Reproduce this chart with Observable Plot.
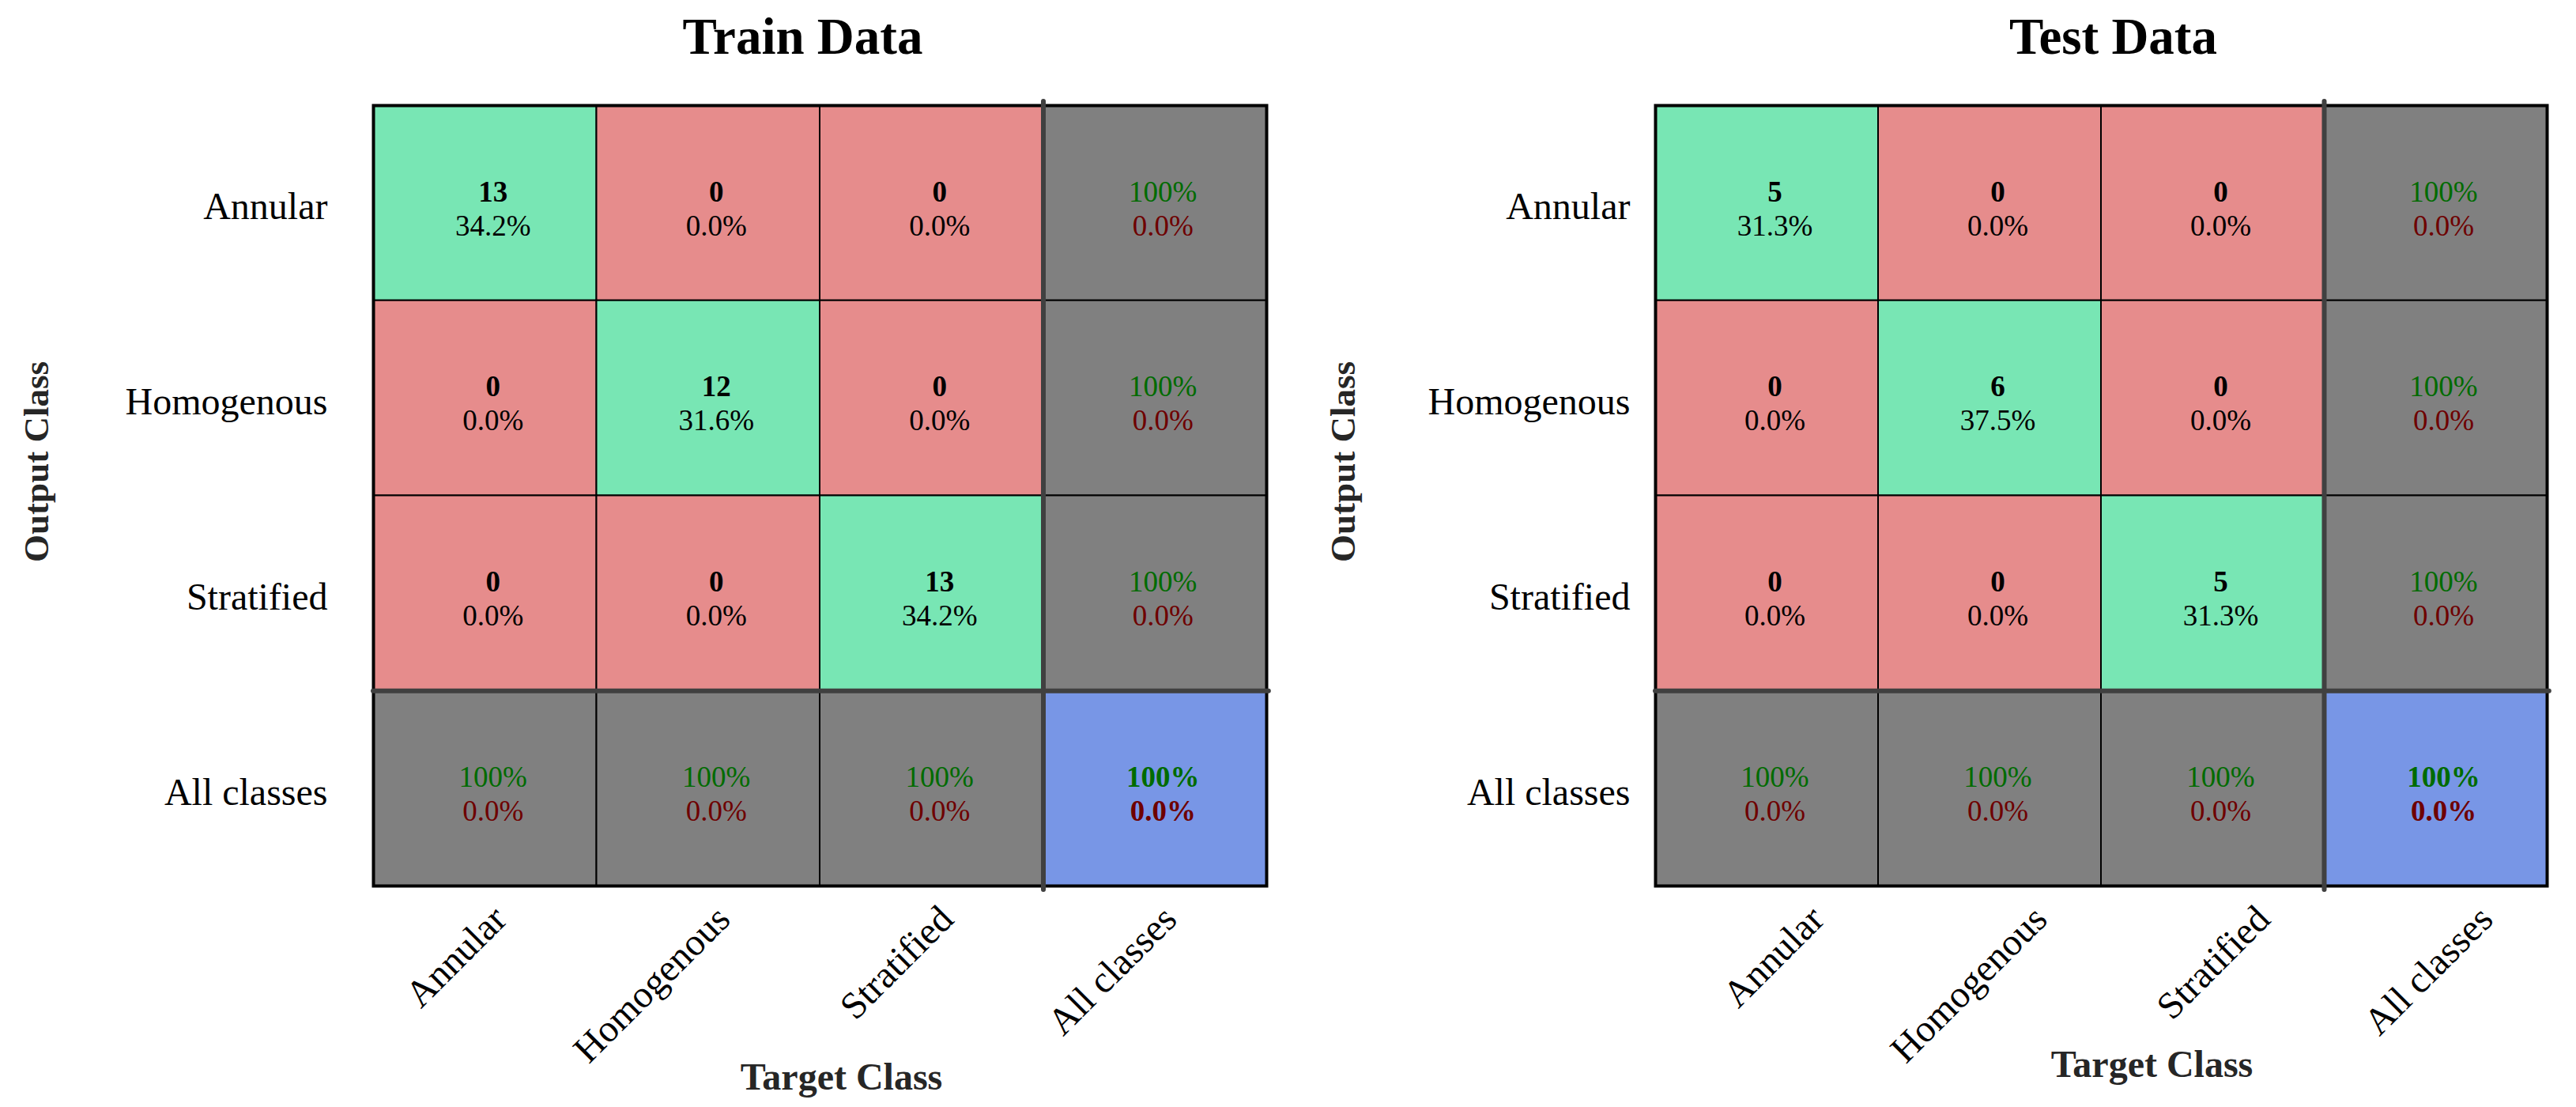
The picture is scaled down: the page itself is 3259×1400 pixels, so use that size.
<!DOCTYPE html>
<html><head><meta charset="utf-8">
<script src="https://cdn.jsdelivr.net/npm/d3@7"></script>
<script src="https://cdn.jsdelivr.net/npm/@observablehq/plot@0.6"></script>
<style>
html,body{margin:0;padding:0;background:#fff;}
#root{position:relative;width:3259px;height:1400px;overflow:hidden;}
#root > div{position:absolute;top:0;}
</style></head><body><div id="root"><div id="left" style="left:0px"></div><div id="right" style="left:1630px"></div></div>
<script>
// ---- data ----
const classes = ["Annular", "Homogenous", "Stratified"];
const axisLabels = ["Annular", "Homogenous", "Stratified", "All classes"];
// rows = output class, columns = target class
const trainCounts = [[13, 0, 0], [0, 12, 0], [0, 0, 13]];
const testCounts = [[5, 0, 0], [0, 6, 0], [0, 0, 5]];
const chartTitles = ["Train Data", "Test Data"];
const xTitle = "Target Class";
const yTitle = "Output Class";

const COL = {good: "#78e6b4", bad: "#e68c8c", summary: "#808080", total: "#7896e6",
             green: "#006b00", red: "#6e0000", grid: "#000000", sep: "#404040"};

function fmt(v) { return v === 100 ? "100%" : v.toFixed(1) + "%"; }

function buildCells(m) {
  const n = m.length, total = d3.sum(m.flat()), cells = [];
  for (let r = 0; r < n; r++) for (let c = 0; c < n; c++)
    cells.push({row: r, col: c, fill: r === c ? COL.good : COL.bad,
      t1: String(m[r][c]), c1: "#000", b1: true, t2: fmt(100 * m[r][c] / total), c2: "#000", b2: false});
  for (let r = 0; r < n; r++) {
    const p = 100 * m[r][r] / d3.sum(m[r]);
    cells.push({row: r, col: n, fill: COL.summary, t1: fmt(p), c1: COL.green, b1: false, t2: fmt(100 - p), c2: COL.red, b2: false});
  }
  for (let c = 0; c < n; c++) {
    const p = 100 * m[c][c] / d3.sum(m, row => row[c]);
    cells.push({row: n, col: c, fill: COL.summary, t1: fmt(p), c1: COL.green, b1: false, t2: fmt(100 - p), c2: COL.red, b2: false});
  }
  const p = 100 * d3.sum(m.map((row, i) => row[i])) / total;
  cells.push({row: n, col: n, fill: COL.total, t1: fmt(p), c1: COL.green, b1: true, t2: fmt(100 - p), c2: COL.red, b2: true});
  return cells;
}

function chart(m, title, o) {
  const n = m.length, cells = buildCells(m);
  const cx = d => d.col + 0.5, cy = d => d.row + 0.5;
  const T = {lineAnchor: "middle"};
  return Plot.plot({
    width: o.width, height: 1400,
    marginLeft: o.marginLeft, marginRight: o.marginRight, marginTop: 133, marginBottom: 280,
    x: {domain: [0, n + 1], axis: null},
    y: {domain: [0, n + 1], reverse: true, axis: null},
    style: {fontFamily: "'Liberation Serif', 'Times New Roman', serif", background: "white", overflow: "visible"},
    marks: [
      Plot.rect(cells, {x1: "col", x2: d => d.col + 1, y1: "row", y2: d => d.row + 1,
        fill: "fill", stroke: COL.grid, strokeWidth: 2}),
      Plot.frame({stroke: "#000", strokeWidth: 4}),
      Plot.ruleX([n], {y1: -0.02, y2: n + 1.02, stroke: COL.sep, strokeWidth: 6, strokeLinecap: "round"}),
      Plot.ruleY([n], {x1: 0, x2: n + 1.01, stroke: COL.sep, strokeWidth: 6, strokeLinecap: "round"}),
      Plot.text(cells.filter(d => d.b1), {...T, x: cx, y: cy, text: "t1", fill: "c1", fontWeight: "bold", fontSize: 37, dx: 10, dy: -14}),
      Plot.text(cells.filter(d => !d.b1), {...T, x: cx, y: cy, text: "t1", fill: "c1", fontSize: 37, dx: 10, dy: -14}),
      Plot.text(cells.filter(d => d.b2), {...T, x: cx, y: cy, text: "t2", fill: "c2", fontWeight: "bold", fontSize: 37, dx: 10, dy: 29}),
      Plot.text(cells.filter(d => !d.b2), {...T, x: cx, y: cy, text: "t2", fill: "c2", fontSize: 37, dx: 10, dy: 29}),
      // row tick labels
      Plot.text(axisLabels, {...T, y: (d, i) => i + 0.5, text: d => d, frameAnchor: "left", textAnchor: "end",
        dx: o.rowDx, dy: 5, fontSize: 48, fill: "#000"}),
      // column tick labels (rotated)
      Plot.text(axisLabels, {...T, x: (d, i) => i + 0.5, text: d => d, frameAnchor: "bottom", textAnchor: "end",
        rotate: -45, dx: o.colDx, dy: 34, fontSize: 48, fill: "#000"}),
      // titles
      Plot.text([title], {...T, text: d => d, frameAnchor: "top", textAnchor: "middle", dx: o.titleDx, dy: -86, fontSize: 65, fontWeight: "bold", fill: "#000"}),
      Plot.text([xTitle], {...T, text: d => d, frameAnchor: "bottom", textAnchor: "middle", dx: o.xTitleDx, dy: o.xTitleDy, fontSize: 48, fontWeight: "bold", fill: "#262626"}),
      Plot.text([yTitle], {...T, text: d => d, frameAnchor: "left", textAnchor: "middle", rotate: -90, dx: o.yTitleDx, dy: -43, fontSize: 45, fontWeight: "bold", fill: "#262626"})
    ]
  });
}

document.getElementById("left").append(chart(trainCounts, chartTitles[0],
  {width: 1630, marginLeft: 472, marginRight: 28, rowDx: -58, colDx: 19, titleDx: -22, xTitleDx: 27, xTitleDy: 242, yTitleDx: -426}));
document.getElementById("right").append(chart(testCounts, chartTitles[1],
  {width: 1629, marginLeft: 464, marginRight: 37, rowDx: -32, colDx: 64, titleDx: 15, xTitleDx: 64, xTitleDy: 226, yTitleDx: -395}));
</script></body></html>
